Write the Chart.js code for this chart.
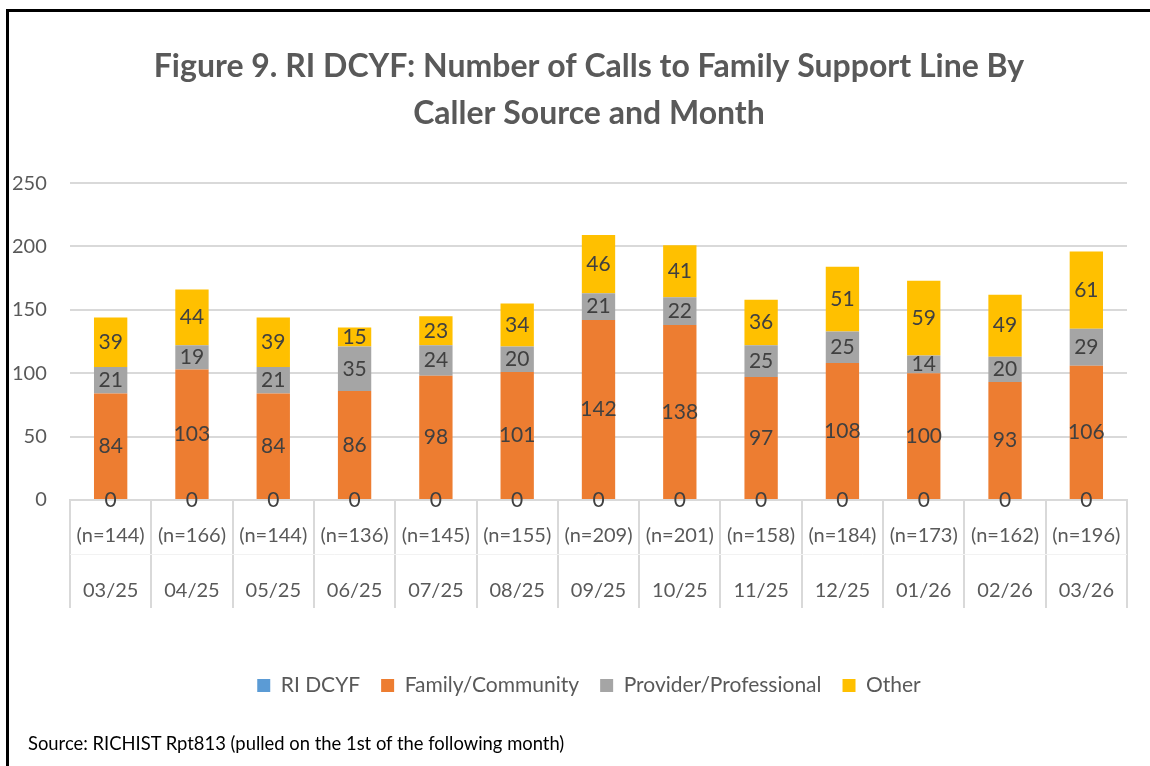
<!DOCTYPE html>
<html>
<head>
<meta charset="utf-8">
<title>Figure 9</title>
<script src="https://cdn.jsdelivr.net/npm/chart.js@4"></script>
<style>
    body { margin: 0; background: #fff; font-family: Lato, sans-serif; }
    .wrap { position: relative; width: 1150px; height: 766px; overflow: hidden; }
    .frame { position: absolute; left: 6px; top: 9px; width: 1200px; height: 800px; border-left: 3px solid #000; border-top: 3px solid #000; pointer-events: none; }
    .source { position: absolute; left: 28px; top: 732px; font-size: 18.4px; color: #000; }
</style>
</head>
<body>
<div class="wrap">
    <canvas id="chart" width="1150" height="766"></canvas>
    <div class="frame"></div>
    <div class="source">Source: RICHIST Rpt813 (pulled on the 1st of the following month)</div>
</div>
<script>
const months = ['03/25', '04/25', '05/25', '06/25', '07/25', '08/25', '09/25', '10/25', '11/25', '12/25', '01/26', '02/26', '03/26'];
const nLabels = ['(n=144)', '(n=166)', '(n=144)', '(n=136)', '(n=145)', '(n=155)', '(n=209)', '(n=201)', '(n=158)', '(n=184)', '(n=173)', '(n=162)', '(n=196)'];
const riDcyf = [0, 0, 0, 0, 0, 0, 0, 0, 0, 0, 0, 0, 0];
const familyCommunity = [84, 103, 84, 86, 98, 101, 142, 138, 97, 108, 100, 93, 106];
const providerProfessional = [21, 19, 21, 35, 24, 20, 21, 22, 25, 25, 14, 20, 29];
const other = [39, 44, 39, 15, 23, 34, 46, 41, 36, 51, 59, 49, 61];
const yTicks = [0, 50, 100, 150, 200, 250];

const FONT = 'Lato, "Open Sans", sans-serif';
const TEXT = '#595959';

// value labels centred in each segment
const segmentLabels = {
    id: 'segmentLabels',
    afterDatasetsDraw(chart) {
        const ctx = chart.ctx;
        ctx.save();
        ctx.font = '21px ' + FONT;
        ctx.fillStyle = '#404040';
        ctx.textAlign = 'center';
        ctx.textBaseline = 'middle';
        chart.data.datasets.forEach((ds, di) => {
            chart.getDatasetMeta(di).data.forEach((bar, i) => {
                const p = bar.getProps(['x', 'y', 'base'], true);
                ctx.fillText(String(ds.data[i]), p.x, (p.y + p.base) / 2);
            });
        });
        ctx.restore();
    }
};

// table-like separators under the category axis
const axisTable = {
    id: 'axisTable',
    afterDraw(chart) {
        const ctx = chart.ctx;
        const area = chart.chartArea;
        const n = chart.data.labels.length;
        const step = (area.right - area.left) / n;
        const depth = 108;
        ctx.save();
        ctx.strokeStyle = '#d9d9d9';
        ctx.lineWidth = 2;
        for (let i = 0; i <= n; i++) {
            const x = Math.round(area.left + i * step);
            ctx.beginPath();
            ctx.moveTo(x, area.bottom);
            ctx.lineTo(x, area.bottom + depth);
            ctx.stroke();
        }
        ctx.strokeStyle = '#f2f2f2';
        ctx.lineWidth = 1;
        ctx.beginPath();
        ctx.moveTo(area.left, area.bottom + depth / 2 + 0.5);
        ctx.lineTo(area.right, area.bottom + depth / 2 + 0.5);
        ctx.stroke();
        ctx.restore();
    }
};

const ds = (label, data, color) => ({
    label: label,
    data: data,
    backgroundColor: color,
    borderWidth: 0,
    categoryPercentage: 1,
    barPercentage: 0.41
});

new Chart(document.getElementById('chart'), {
    type: 'bar',
    data: {
        labels: months.map((m, i) => [nLabels[i], m]),
        datasets: [
            ds('RI DCYF', riDcyf, '#5B9BD5'),
            ds('Family/Community', familyCommunity, '#ED7D31'),
            ds('Provider/Professional', providerProfessional, '#A5A5A5'),
            ds('Other', other, '#FFC000')
        ]
    },
    options: {
        responsive: false,
        animation: false,
        layout: { padding: { left: 51, right: 23, top: 0, bottom: 60 } },
        plugins: {
            tooltip: { enabled: false },
            title: {
                display: true,
                text: ['Figure 9. RI DCYF: Number of Calls to Family Support Line By', 'Caller Source and Month'],
                color: TEXT,
                font: { family: FONT, size: 32, weight: 'bold', lineHeight: 1.47 },
                padding: { top: 43, bottom: 46 }
            },
            legend: {
                position: 'bottom',
                labels: {
                    color: TEXT,
                    font: { family: FONT, size: 21 },
                    boxWidth: 13,
                    boxHeight: 13,
                    padding: 21
                }
            }
        },
        scales: {
            x: {
                stacked: true,
                grid: { display: false, drawTicks: false },
                border: { display: true, color: '#d9d9d9', width: 2 },
                ticks: {
                    color: TEXT,
                    font: { family: FONT, size: 20, lineHeight: 2.75 },
                    padding: 8,
                    maxRotation: 0,
                    autoSkip: false
                },
                afterFit: axis => { axis.height += 28; }
            },
            y: {
                stacked: true,
                min: 0,
                max: 250,
                afterBuildTicks: axis => { axis.ticks = yTicks.map(v => ({ value: v })); },
                afterFit: axis => { axis.width = 19; },
                grid: { color: '#d9d9d9', lineWidth: 2, drawTicks: false },
                border: { display: false },
                ticks: {
                    color: TEXT,
                    font: { family: FONT, size: 20 },
                    mirror: true,
                    crossAlign: 'far',
                    padding: -58
                }
            }
        }
    },
    plugins: [segmentLabels, axisTable]
});
</script>
</body>
</html>
